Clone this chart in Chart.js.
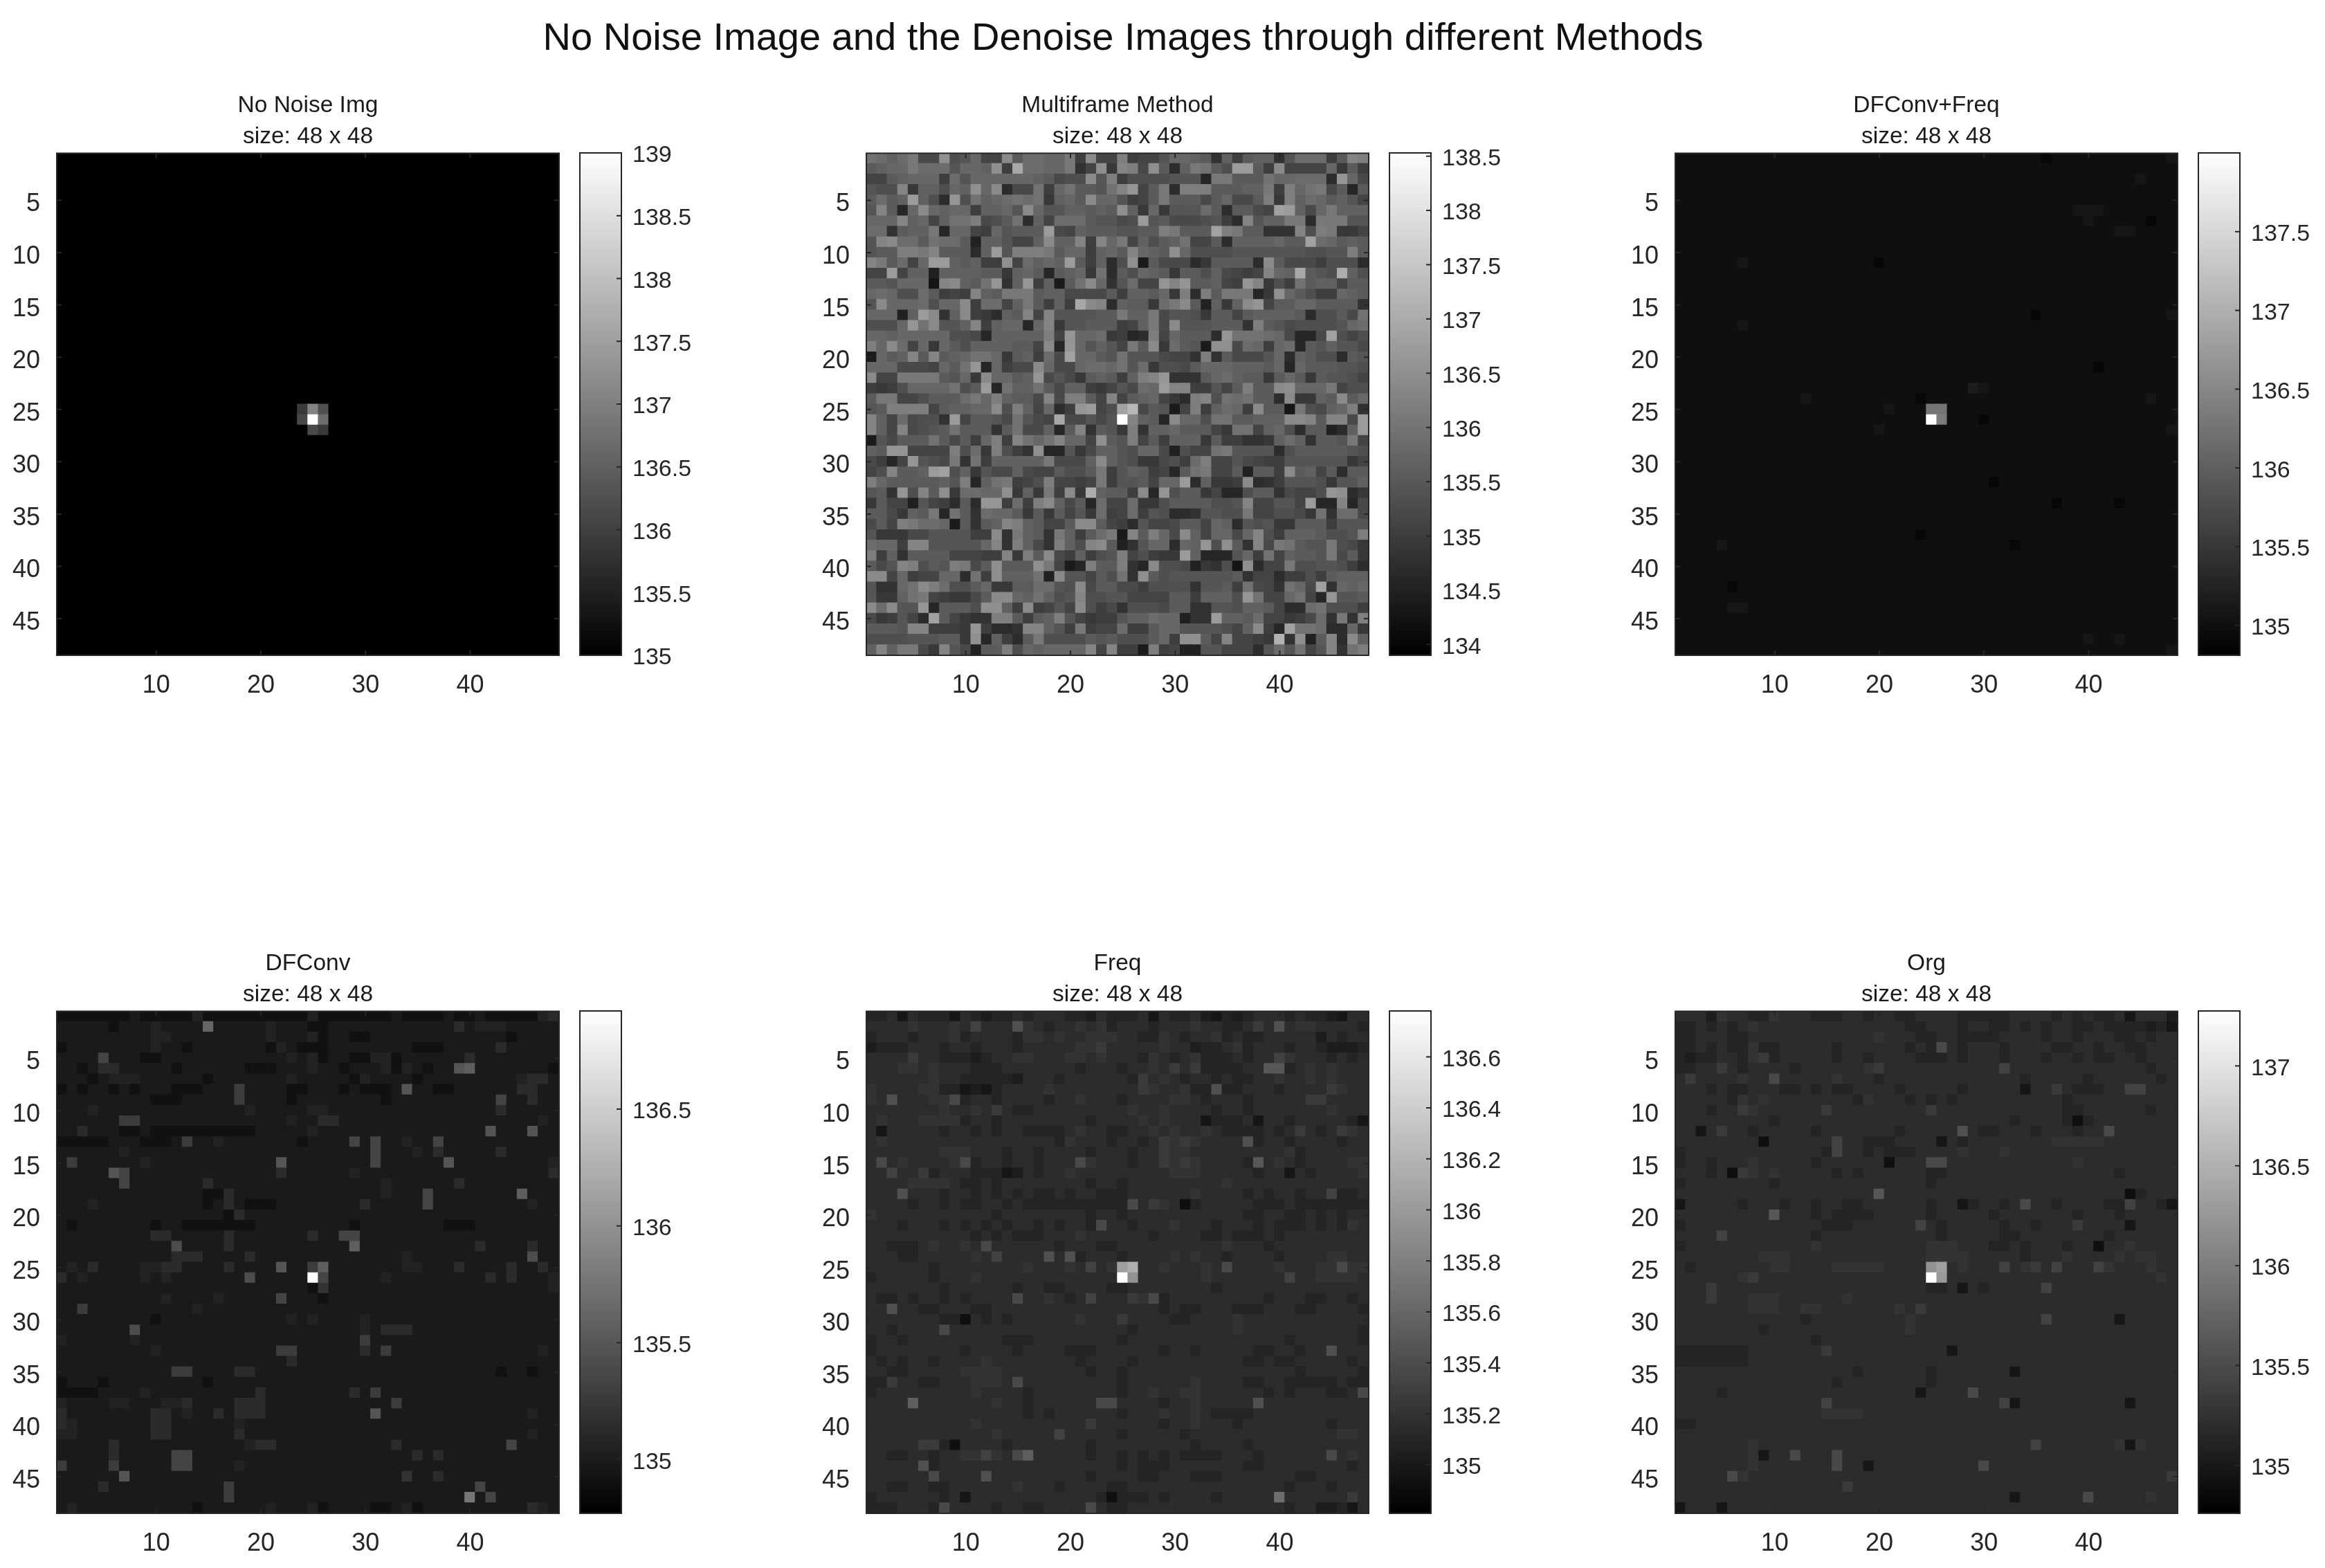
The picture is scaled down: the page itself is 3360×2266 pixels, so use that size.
<!DOCTYPE html>
<html>
<head>
<meta charset="utf-8">
<title>Denoise images</title>
<script src="https://cdn.jsdelivr.net/npm/chart.js@4/dist/chart.umd.js"></script>
<style>
  html, body { margin: 0; background: #fff; }
  #page { position: relative; width: 3360px; height: 2266px; overflow: hidden; filter: blur(0.6px); }
  #page canvas { position: absolute; }
  #title { position: absolute; left: 1623px; top: 20px; transform: translateX(-50%); white-space: nowrap;
           font: 56px "Liberation Sans", Arial, sans-serif; color: #111; line-height: 66px; }
</style>
</head>
<body>
<div id="page"><div id="title">No Noise Image and the Denoise Images through different Methods</div></div>
<script>
const panelNames = ['No Noise Img', 'Multiframe Method', 'DFConv+Freq', 'DFConv', 'Freq', 'Org'];
const sizeLabel = 'size: 48 x 48';
const xTickValues = [10, 20, 30, 40];
const yTickValues = [5, 10, 15, 20, 25, 30, 35, 40, 45];
const colorMin = [135, 133.9, 134.81, 134.77, 134.81, 134.76];
const colorMax = [139, 138.53, 138.0, 136.92, 136.78, 137.275];
const barTicks = [
  [135, 135.5, 136, 136.5, 137, 137.5, 138, 138.5, 139],
  [134, 134.5, 135, 135.5, 136, 136.5, 137, 137.5, 138, 138.5],
  [135, 135.5, 136, 136.5, 137, 137.5],
  [135, 135.5, 136, 136.5],
  [135, 135.2, 135.4, 135.6, 135.8, 136, 136.2, 136.4, 136.6],
  [135, 135.5, 136, 136.5, 137]
];

// cell levels, one base-36 digit per cell (0 = colour limit low, z = high)
const multiframeRows = [
  'gfdfh99labe88kcffeeh7k88 i788beedc5d7cdd5bfff7cji',
  'cdeehfffbeedl7pffeeh58l6 ji9lc4dhgcannc7k8888e6c7',
  '88cdeee7fbeeeeeedc9aakbi 7aaaabbb3hhcccgeefff4me9',
  'baaj6ddaedlek499g7egccbg jm8ch4iiicccddh7iegh9c3c',
  'cfcdnda4magdefgfg6deckee b78chccc9ce99ci6idfecdb8',
  'bjc3ekedee7ddebkebbddcdc ld6e6bbbfc4cc98ond9ehddd',
  'eeejde8dggi9acg4d8fffcbb 9anbc999ab74jbddhh4hhhbb',
  'ff5cddh3ee87ebcccn98dccc bbccihcccoihcc555jaih668',
  'bjkffcgffc2ddb88dkddj7je h8dacdg88c4ddddeccofecdc',
  'bcciihjccc4dnbiiihcee7de cjedcleaaaabbbbbbbaabbic',
  'jhcf8enndcd77l8fdednc7d4 al1c99946cccc4kc9997aaa4',
  '88n8dd2ddddcc6dec3cde6g4 caedc6ccad9878jedpcbaqda',
  'ccbeee0jkdcgm5dm7d1cgke5 bf88mjmccd87mj6a7gcdd8cc',
  'efeaafc787jdchhhcdd9999c 7ddce6i4ichhh36leca77edc',
  'bkeeefaeek7ff8dhc7d7pkj4 dcc6fhkc2d6dkm8cceecccc5',
  'eee2dnk5dk764dcj8jbbbbcc hddh9bba6cc8cddddc4aac9g',
  'aaaemgkbbdj7dee3ej6bbccc 78dh9kbbbccc5icb9aaaabef',
  'eedeeeeeaa93dddddi8meef6 734i8eccc4mgggfe9339oa8a',
  'iekf8e6ecaddddcc8k3mebdb 8hck6fcb1ll9fe7ef3cbdbb9',
  '1ecdjcjcdegge6cd7f9oeecb gbbb9885i5c999be4dcaa4cb',
  'eee9998ecgm3e799ke99effe gbf6aa9ceeedddce3ecccbba',
  'k88hhhhcbe6keecdm9b96cdc 7dijm555cefdcc6cec6cbba8',
  '767aeeeegacn3gddgc9dd768 b9fenjj77b8cicckleeeh8aa',
  'chh88acccfheidcc9j9iic8j 8cde864ijagfgcc4k66dckce',
  'bciiii8cddeekaid8e47mn8a os9cb18i7dfe7kcc0ha9dei5',
  'jd8f9aa5n8ccb9gb98p99b9b zjdc3keeaggccdddkkjcjj9n',
  'jd8j9abcgccc5cg99d3cj5cb 6i5ddeccc86gg8dea4cc24dn',
  '1b9cccgc9c7ei7jgegjee8lc bi8c7ddd6c77556dfd5ccbh8',
  'dcmm8888iaf6ia75l33b69dd baee92a88ghbbbb4acccccba',
  '9738mba9h5g7dddddh999dkd ba669a7fi88b9877bbbbbb68',
  '8ajccdnoad6b99d988caach7 bdc783cgh88c2cc7kcd8c4cc',
  'iecccccdbi3dgh78ai8878h7 bbc8een4d667k457bbba6bbd',
  'bc5majcl6ffeel6d6h7k6qdc c7k3macc6833acc5988aml46',
  '6c882b874c4mm7f7ikd9c3f8 8f66accccaabj88bb8n33j39',
  'cc96dch3gc5feec6c6c8b6f7 8f7ba445bbaah88aa96g5ff9',
  '9c8ihffe1c5cdjidc88ckkc8 74b889cc8ed4bab66ccc7bbb',
  'b66699bbbb77k5hdc5hd7cfh 1jcie9kd8ee9eja7dddcaabi',
  'fee7jjbbbbbej5id95idajkc 25bee4edmalc5j9hgcbbha96',
  'i7d5cccc88877j6ick97d7ab i8a766nd333be7g8dccbh9c6',
  'c9bjiacbih9clccclh813icc i53kaa9265a0l488haabba74',
  'kk8e788ee4g7ldddg2kbb8ca g5lcabbbbbbc588477a7cddd',
  'b55egkifaace66ccffbak9cc 997aaaa5bbc7g985ge9o5ede',
  'b66dgh87669ckkedgdabjaab b8888cc7dddamg88eg83mbbc',
  'kfkbbm3cccalld7k78b8ka79 5aaa9cc55bbaddc844fgaaa7',
  '967b84oc8655iic7cdib8677 bddfee255nddcf88679f5h5i',
  'cccbjj7776m7445jjdb7h788 f77ceebbbba8dk73oggf44e6',
  'aaaabbbcc6l3d74chaaaacbc aaace7llc8j8876r5l2cj4kd',
  'djdhh96jb92cciaedeeeej8j 771i7822bb8884bfbg8bj5gi'
];

const dfconvRows = [
  '222222232222 242222222222 422222223222 232232222245',
  '333332333433 33c333334333 223333333333 335344433333',
  '333333333443 333333334333 423322333333 333333323333',
  '233333333433 233333332432 223333333322 233333533333',
  '333383332233 333333333343 423322442333 333533333333',
  '332355333332 333333222333 433233342432 33ab33333332',
  '333234443333 332333333343 333324333323 333333334553',
  '232332323332 223337333322 333232223a33 223333335533',
  '333333333222 333337333323 333333323333 333333833533',
  '333433333333 333333433333 443333333333 333333533333',
  '333333773333 333333333343 355333333333 333333333343',
  '335333223222 222222233333 433333333333 33333a333a33',
  '222223332223 733433333332 333383833433 833333333333',
  '333333433333 333333333333 333333833343 533333533333',
  '373333334333 333333333a33 333333833333 3a3333333334',
  '33333a833333 333333333533 333343333333 333333333335',
  '333333833333 335333333333 333333343333 335333333333',
  '333333333333 332253333333 333333343338 33333333b333',
  '333433333333 332353222333 333335333338 333333333433',
  '333333333333 333325333333 333333333333 333333333333',
  '323333333233 222222233333 333323333333 322233333333',
  '333333333553 333353333333 533883333333 333333333333',
  '333333333339 333353333333 3333b3333333 333353333533',
  '333333333335 553333533333 333333333433 333333333933',
  '343533334455 333353333a33 7b3333333443 335333353353',
  '534333334343 333333933333 z83333343333 333335353334',
  '333333333333 333333333333 263333333333 333333333334',
  '333333333343 333433333833 323333333333 333333333333',
  '337333333333 343333333333 333333333333 333333333333',
  '333333333233 333333333343 433334333333 333333333333',
  '333333393333 333333333333 333334355533 333333333333',
  '433333343333 333333333333 333337333333 333333333333',
  '333333333433 333333333773 333335373333 333333333343',
  '333333333333 333333333353 333333333333 333333333333',
  '333333333337 733335533333 333333333333 333333233233',
  '233323333333 332333333333 333333333333 333333333333',
  '222233334333 333333353333 333353733333 333333333333',
  '433334433344 533335553333 333333337333 333333333333',
  '533333333553 433535553333 333333a33333 333333333433',
  '543333333553 333334333333 333333333333 333333333333',
  '443333333553 333335333333 333333333333 333333333433',
  '333335333333 333333455333 333333335333 333333383333',
  '333335333338 833333333333 333333333353 533333333333',
  '733337333338 833334333333 333333333333 333333333333',
  '333333a33333 333333333333 333333333633 533333333333',
  '333353333333 333373333333 333333333333 333383333333',
  '333333333333 333373333333 333333333333 333e38333333',
  '343333333333 323333334333 423333223423 333333333543'
];

const freqRows = [
  '556365553654 556566655465 556365564354 566656554366',
  '666676667676 666765667675 666566676655 666667766665',
  '566656667566 665776766777 665576566756 556666646566',
  '455566656656 665666667766 666676645567 566656654445',
  '666666655545 667766677676 665765675556 566576665656',
  '666776766655 566666665666 566767675555 666656767666',
  '666666766555 554666566666 657676566565 566766767666',
  '766667755345 566667666666 667766755555 666566666766',
  '766666776566 566665667666 566667765666 566666776666',
  '666666676676 665566666666 676676666566 566666667666',
  '676667777566 566666666566 667676663555 636656666652',
  '656666656656 566555567665 566767667655 556566656676',
  '676666666666 666666576665 665667776666 556656666566',
  '666666677766 656656666566 656677766666 666675666666',
  '676766667656 656656666766 656667776666 566765666677',
  '667666566655 554656676666 666667776666 656666566667',
  '666677776556 566666666566 566666666676 666666666666',
  '666666656656 565655656655 566666676666 565665666556',
  '666656656556 656555555555 566676356666 655565555555',
  '766666666666 566666666566 566666666666 556655656566',
  '666566656565 656656566576 656667666566 656555656576',
  '666666666656 565556667666 666566665565 556566666666',
  '665556766767 666666566655 666666666676 665666666666',
  '666556666676 666666655666 566666676656 666566667766',
  '666666566666 666766676767 666676667666 666766677777',
  '566666566676 666666666666 656666667666 666666677776',
  '666666656666 665665566665 566666666566 666666666666',
  '655656656566 665667656666 667656666666 665666556656',
  '666665566655 666666666666 666656556665 556665566665',
  '666666655565 656666667666 566665566667 666666666666',
  '665666666666 666666666666 656666666667 666666666665',
  '566566666666 655566666666 566666666666 666656666665',
  '566666666566 665666655566 666656656666 655665666666',
  '656566566667 666666665666 656666666666 556556666656',
  '665566666777 766666666566 566666666666 666665666665',
  '555665566677 766666666666 566666676666 556655555655',
  '566666666676 666566666666 566766776666 665656665566',
  '666676666666 766566666666 666656676666 656666666666',
  '666666666666 666565666666 566676676555 566666666666',
  '666666666676 666666666666 666656676665 666666665666',
  '666666666666 766666666666 566666566666 666666666776',
  '666667755666 656666666566 666666656666 566666666666',
  '665566566776 766666666566 565656555566 656666666676',
  '666666566666 666666666666 565556666666 556666666656',
  '666666666666 666666666566 665566655566 666665566666',
  '665566556666 667666566665 566666666666 666656665666',
  '566666656666 666666666656 555656666566 666666666666',
  '555666566666 566556666665 566666666666 666656644556'
];

const orgRows = [
  '666476655766 655566566556 666555556666 565655636664',
  '556565676666 666666666655 666566556565 665565555453',
  '556665566666 666666676665 566555566665 665666556566',
  '556565575566 666566666656 576566656666 556656655666',
  '545566575566 666566566665 556566656665 665655665666',
  '556666566665 666666766666 666666656666 666666666566',
  '676666766766 666766656666 666666666566 666566666656',
  '666565566655 656556666566 666566666566 665556666666',
  '666665767666 666665766656 565666666666 656666666666',
  '666566776666 666666666666 666666666666 655666666566',
  '666666666566 666666666666 666666665666 655566666666',
  '666666656666 656666666566 666665566656 665665666666',
  '666666666666 666666555666 666566666666 777776666666',
  '566666666666 665666565556 666766676666 666666666666',
  '566566676666 656666666666 566666666666 667666666666',
  '666565676766 666565666666 556666666666 666666566666',
  '566666666566 666666666666 566666666666 666666666666',
  '666666666666 666666666666 666666666666 666666665666',
  '666666566656 656655666666 566656656666 566665556656',
  '666666666666 656555566666 566666566666 665666566666',
  '566666666666 665556666666 656666656656 666666666666',
  '666666666666 656666666666 656666655666 666665666666',
  '566666666666 676666666666 777666556566 656666676666',
  '666666667776 666666666666 777766666566 676666767766',
  '656666666776 666777776666 776766666766 666667666766',
  '666666766666 666666666666 666666666666 666666666676',
  '666766666666 666666666666 556665666666 666666666666',
  '666766677766 666676666666 666666666666 666666666666',
  '666666677766 776666666766 666666666666 666666666666',
  '666666666666 566666666676 666666666666 666666666666',
  '666666665666 666666666676 666666666666 666666666666',
  '666666666666 656666666666 666666666666 666666666666',
  '555555566666 666666666666 666666666666 666666666666',
  '555555566666 666666666666 666666666666 666666666666',
  '666666666666 666665666666 566666666666 666666666666',
  '666666666666 666566666666 566666666666 666666666666',
  '666656666666 666666666666 666666666666 666666666666',
  '666666666666 666666666666 666666666666 666666666666',
  '666666666666 667777666666 666666666666 666666666666',
  '556666666666 666666666666 666666666666 666666666666',
  '666666666666 666666666666 666666666666 666666666666',
  '666666676666 666666666666 666666666666 666666777666',
  '666666676666 666666666666 666666666666 666666666666',
  '666666676666 666666666666 666666666666 666666666666',
  '666667766666 666666666666 666666666666 666666666666',
  '666666666666 666666666666 666666666666 666666666666',
  '666666666666 666666666666 666666666666 666666666766',
  '666666666666 666666666666 666666666666 666666666666'
];

// flat backgrounds of the two plainest panels
const noNoiseBase = '0';
const dfconvFreqBase = '2';

// [row, col, level] for the cells that stand out
const noNoiseSpots = [[25, 24, '8'], [25, 25, 'i'], [25, 26, 'b'], [26, 24, 'a'], [26, 25, 'z'], [26, 26, 'f'], [27, 25, 'a'], [27, 26, '8']];
const dfconvFreqSpots = [
  [25, 25, 'g'], [25, 26, 'g'], [26, 25, 'z'], [26, 26, 'h'], [24, 24, '1'], [11, 20, '1'], [1, 36, '1'], [32, 31, '1'], [38, 33, '1'],
  [34, 37, '1'], [6, 39, '3'], [6, 40, '3'], [6, 41, '3'], [7, 40, '3'], [8, 43, '3'], [8, 44, '3'], [23, 29, '4'], [23, 30, '3'], [24, 46, '3'],
  [27, 48, '3'], [48, 48, '3'], [47, 40, '3'], [47, 43, '3'], [44, 6, '3'], [44, 7, '3'], [17, 7, '3'], [38, 5, '3'], [11, 7, '3'], [1, 48, '3'],
  [3, 45, '3'], [16, 48, '3'], [24, 13, '3'], [25, 21, '3'], [27, 20, '3'], [42, 6, '1'], [34, 43, '1'], [26, 30, '1'], [16, 35, '1'], [7, 46, '1'],
  [37, 24, '1'], [21, 41, '1']
];
const freqSpots = [
  [2, 15, 'b'], [2, 40, 'b'], [2, 11, '9'], [2, 38, '8'], [4, 23, '8'], [5, 5, '8'], [5, 40, '9'], [6, 39, 'c'], [6, 40, 'c'], [6, 30, '8'], [6, 32, '8'],
  [7, 27, '8'], [8, 27, '8'], [8, 34, 'b'], [8, 12, '3'], [9, 3, 'b'], [9, 9, 'a'], [9, 43, '8'], [9, 44, '8'], [8, 45, '8'], [10, 13, '8'], [11, 8, '7'],
  [11, 33, '3'], [11, 48, '3'], [12, 2, '3'], [12, 46, '8'], [12, 42, '8'], [13, 29, '8'], [14, 29, '8'], [15, 29, '8'], [13, 31, '8'], [15, 31, '8'],
  [13, 37, 'b'], [15, 21, 'a'], [15, 2, 'a'], [15, 10, 'a'], [15, 38, 'c'], [16, 3, '9'], [16, 6, '8'], [16, 14, '3'], [16, 41, '3'], [18, 4, 'b'],
  [18, 45, '9'], [19, 26, 'a'], [19, 31, '2'], [19, 28, '8'], [21, 23, 'a'], [23, 12, 'a'], [24, 18, 'b'], [24, 20, 'b'], [24, 13, '9'], [25, 22, '9'],
  [25, 35, 'a'], [25, 46, 'a'], [24, 30, '7'], [25, 25, 'm'], [25, 26, 'o'], [26, 25, 'z'], [26, 26, 'k'], [26, 41, '9'], [28, 15, 'a'], [28, 22, '9'],
  [28, 26, '8'], [28, 28, 'a'], [29, 3, 'b'], [30, 10, '2'], [30, 25, '8'], [31, 8, 'a'], [33, 45, 'b'], [36, 3, '8'], [36, 15, 'a'], [38, 5, 'd'],
  [38, 23, 'a'], [38, 24, 'a'], [38, 38, 'b'], [37, 48, 'a'], [40, 22, '8'], [41, 19, '9'], [42, 6, '8'], [42, 7, '8'], [42, 9, '2'], [43, 12, '9'],
  [43, 16, 'd'], [43, 15, 'a'], [44, 6, 'b'], [45, 7, 'a'], [45, 12, 'b'], [43, 45, 'a'], [47, 40, 'f'], [47, 47, '8'], [48, 8, 'a'], [48, 22, 'a'],
  [48, 47, '3'], [47, 10, '3'], [47, 24, '2']
];
const orgSpots = [
  [4, 26, 'a'], [5, 9, '8'], [7, 10, 'a'], [7, 2, '8'], [6, 32, '9'], [6, 5, '8'], [6, 20, '8'], [8, 34, '3'], [8, 44, '9'], [8, 45, '9'], [8, 37, '8'],
  [10, 7, '8'], [10, 15, '8'], [10, 25, '8'], [11, 39, '2'], [12, 28, 'b'], [12, 42, 'a'], [12, 5, '8'], [12, 3, '3'], [13, 9, '2'], [13, 26, '3'],
  [13, 16, '9'], [14, 16, '9'], [15, 21, '2'], [15, 25, 'a'], [15, 26, 'a'], [16, 6, '2'], [16, 7, '8'], [19, 1, '3'], [18, 20, 'c'], [19, 34, 'a'],
  [18, 44, '2'], [19, 44, '9'], [19, 48, '3'], [19, 28, '3'], [20, 10, 'c'], [21, 24, '9'], [21, 39, '8'], [21, 44, '3'], [22, 5, '9'], [23, 41, '2'],
  [25, 32, '9'], [25, 35, '8'], [25, 37, '9'], [25, 41, '9'], [25, 25, 'k'], [25, 26, 'm'], [26, 25, 'z'], [26, 26, 'l'], [23, 26, '7'], [27, 4, '8'],
  [28, 4, '8'], [26, 8, '8'], [27, 28, '3'], [27, 36, '9'], [29, 24, '8'], [30, 36, '9'], [30, 43, '3'], [37, 29, 'a'], [37, 24, '3'], [38, 33, '3'],
  [38, 32, '9'], [38, 15, '9'], [38, 44, '3'], [43, 12, 'a'], [43, 16, 'a'], [44, 16, 'a'], [44, 30, 'a'], [45, 6, 'a'], [45, 48, '8'], [44, 19, '3'],
  [47, 40, 'a'], [47, 33, '3'], [48, 1, '3'], [48, 5, '3'], [46, 17, '8'], [42, 35, '9'], [42, 44, '3'], [43, 9, '3'], [33, 27, '3'], [35, 33, '3'], [33, 15, '8']
];

// my readings of the two noisiest panels ran off in contrast / brightness, these pull them back
const grayCentre = [0, 105, 0, 0, 0, 0];
const grayGain = [1, 0.8, 1, 1.17, 1, 1];

const FONT = '"Liberation Sans", Arial, sans-serif';
const INK = '#262626';
const panelLeft = [82, 1252, 2421];
const panelTop = [221, 1461];
const panelSize = 726;

// inward ticks and the box, MATLAB style
const boxTicks = {
  id: 'boxTicks',
  afterDatasetsDraw(chart, args, opts) {
    const { ctx, chartArea: a } = chart;
    ctx.save();
    ctx.strokeStyle = INK;
    ctx.lineWidth = 2;
    ctx.strokeRect(a.left, a.top, a.right - a.left, a.bottom - a.top);
    const y = chart.scales.y;
    y.ticks.forEach((t, i) => {
      const p = y.getPixelForTick(i);
      ctx.beginPath();
      ctx.moveTo(a.right, p); ctx.lineTo(a.right - 7, p);
      if (opts.both) { ctx.moveTo(a.left, p); ctx.lineTo(a.left + 7, p); }
      ctx.stroke();
    });
    if (opts.both) {
      const x = chart.scales.x;
      x.ticks.forEach((t, i) => {
        const p = x.getPixelForTick(i);
        ctx.beginPath();
        ctx.moveTo(p, a.bottom); ctx.lineTo(p, a.bottom - 7);
        ctx.moveTo(p, a.top); ctx.lineTo(p, a.top + 7);
        ctx.stroke();
      });
    }
    ctx.restore();
  }
};
Chart.register(boxTicks);

function addCanvas(left, top, w, h) {
  const c = document.createElement('canvas');
  c.width = w; c.height = h;
  c.style.left = left + 'px'; c.style.top = top + 'px';
  c.style.width = w + 'px'; c.style.height = h + 'px';
  document.getElementById('page').appendChild(c);
  return c;
}

function levelsToCells(rows, spots) {
  const cells = [];
  rows.forEach((line, r) => {
    const row = line.replace(/ /g, '');
    for (let c = 0; c < 48; c++) cells.push({ x: c + 1, y: r + 1, level: parseInt(row[c], 36) });
  });
  spots.forEach(([r, c, l]) => { cells[(r - 1) * 48 + c - 1].level = parseInt(l, 36); });
  return cells;
}

function grayOf(i, level) {
  if (level === 35) return 255; // the peak stays white
  return Math.round(grayCentre[i] + (level * 255 / 35 - grayCentre[i]) * grayGain[i]);
}

function drawPanel(i, left, top, rows, spots) {
  const titleH = 91, axisW = 82, axisH = 80;
  const cells = levelsToCells(rows, spots);
  new Chart(addCanvas(left - axisW, top - titleH, axisW + panelSize + 4, titleH + panelSize + axisH), {
    type: 'scatter',
    data: {
      datasets: [{
        data: cells,
        pointStyle: 'rect',
        pointBorderWidth: 0,
        // a bit oversized so no seam shows between neighbours
        pointRadius: ctx => ctx.chart.chartArea ? (ctx.chart.chartArea.right - ctx.chart.chartArea.left) / 48 * Math.SQRT1_2 + 1 : 0,
        pointBackgroundColor: cells.map(d => { const g = grayOf(i, d.level); return `rgb(${g},${g},${g})`; })
      }]
    },
    options: {
      responsive: false, animation: false, devicePixelRatio: 1,
      layout: { padding: { right: 4 } },
      plugins: {
        legend: { display: false }, tooltip: { enabled: false },
        boxTicks: { both: true },
        title: {
          display: true, text: [panelNames[i], sizeLabel], color: '#1a1a1a', fullSize: false,
          font: { family: FONT, size: 33.5, lineHeight: 1.35, weight: 'normal' },
          padding: { top: 0, bottom: 1 }
        }
      },
      scales: {
        x: {
          type: 'linear', min: 0.5, max: 48.5,
          grid: { display: false }, border: { display: false },
          afterBuildTicks: s => { s.ticks = xTickValues.map(v => ({ value: v })); },
          afterFit: s => { s.height = axisH; },
          ticks: { color: INK, font: { family: FONT, size: 36 }, padding: 14, maxRotation: 0, autoSkip: false, callback: v => String(v) }
        },
        y: {
          type: 'linear', reverse: true, min: 0.5, max: 48.5,
          grid: { display: false }, border: { display: false },
          afterBuildTicks: s => { s.ticks = yTickValues.map(v => ({ value: v })); },
          afterFit: s => { s.width = axisW; },
          ticks: { color: INK, font: { family: FONT, size: 36 }, padding: 16, labelOffset: 6, autoSkip: false, callback: v => String(v) }
        }
      }
    }
  });

  // colorbar
  const barW = 60, pad = 24;
  new Chart(addCanvas(left + panelSize + 30 - 2, top - pad, barW + 2 + 160, panelSize + 2 * pad), {
    type: 'bar',
    data: {
      labels: [''],
      datasets: [{
        data: [[colorMin[i], colorMax[i]]],
        barPercentage: 1, categoryPercentage: 1,
        borderWidth: 0,
        backgroundColor: ctx => {
          const a = ctx.chart.chartArea;
          if (!a) return '#888';
          const g = ctx.chart.ctx.createLinearGradient(0, a.bottom, 0, a.top);
          g.addColorStop(0, '#000'); g.addColorStop(1, '#fff');
          return g;
        }
      }]
    },
    options: {
      responsive: false, animation: false, devicePixelRatio: 1,
      layout: { padding: { top: pad, bottom: pad, left: 2 } },
      plugins: { legend: { display: false }, tooltip: { enabled: false }, boxTicks: { both: false } },
      scales: {
        x: { display: false },
        y: {
          position: 'right', min: colorMin[i], max: colorMax[i],
          grid: { display: false }, border: { display: false },
          afterBuildTicks: s => { s.ticks = barTicks[i].map(v => ({ value: v })); },
          afterFit: s => { s.width = 160; s.paddingTop = 0; s.paddingBottom = 0; },
          ticks: { color: INK, font: { family: FONT, size: 34 }, padding: 8, labelOffset: 4, autoSkip: false, callback: v => String(v) }
        }
      }
    }
  });
}

const panelRows = [
  Array(48).fill(noNoiseBase.repeat(48)), multiframeRows, Array(48).fill(dfconvFreqBase.repeat(48)),
  dfconvRows, freqRows, orgRows
];
const panelSpots = [noNoiseSpots, [], dfconvFreqSpots, [], freqSpots, orgSpots];
panelNames.forEach((name, i) => {
  drawPanel(i, panelLeft[i % 3], panelTop[Math.floor(i / 3)], panelRows[i], panelSpots[i]);
});
</script>
</body>
</html>
